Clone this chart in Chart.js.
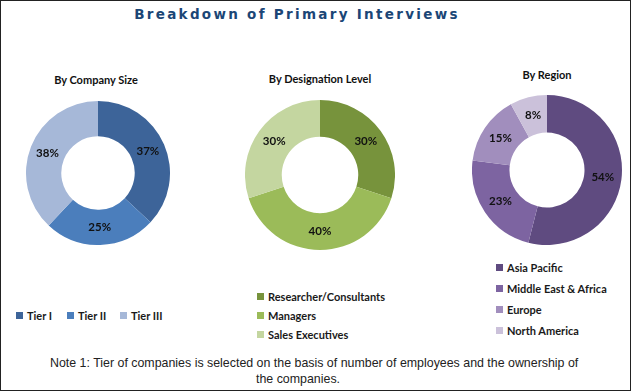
<!DOCTYPE html>
<html>
<head>
<meta charset="utf-8">
<script src="https://cdn.jsdelivr.net/npm/chart.js@4.4.1/dist/chart.umd.min.js"></script>
<style>
body { margin: 0; width: 631px; height: 391px; overflow: hidden; background: #fff; font-family: Lato, "Open Sans", sans-serif; }
#frame { position: absolute; left: 0; top: 0; width: 629px; height: 389px; border: 1px solid #222; }
#title { position: absolute; left: 0; width: 594px; top: 6px; text-align: center; font: bold 13.5px "DejaVu Sans", Verdana, sans-serif; letter-spacing: 2.3px; color: #1b4676; }
.sub { position: absolute; width: 200px; text-align: center; font-weight: bold; font-size: 11px; color: #111; }
.box { position: absolute; }
.leg { position: absolute; font-weight: bold; font-size: 11px; color: #1a1a1a; white-space: nowrap; }
.leg i { display: inline-block; width: 7px; height: 7px; margin-right: 4px; vertical-align: 1px; }
.note { position: absolute; font: 12.4px "Liberation Sans Narrow", "Liberation Sans", Arial, sans-serif; color: #222; white-space: nowrap; }
</style>
</head>
<body>
<div id="frame"></div>
<div id="title">Breakdown of Primary Interviews</div>

<div class="sub" style="left:-4px;top:73px">By Company Size</div>
<div class="sub" style="left:220px;top:72px">By Designation Level</div>
<div class="sub" style="left:447px;top:68px">By Region</div>

<div class="box" style="left:26px;top:101px;width:144px;height:144px"><canvas id="sizeChart"></canvas></div>
<div class="box" style="left:245px;top:100px;width:150px;height:150px"><canvas id="levelChart"></canvas></div>
<div class="box" style="left:472px;top:95px;width:150px;height:150px"><canvas id="regionChart"></canvas></div>

<div id="legends"></div>

<div class="note" style="left:50px;top:356px">Note 1: Tier of companies is selected on the basis of number of employees and the ownership of</div>
<div class="note" style="left:256px;top:372px">the companies.</div>

<script>
const sizeLabels = ['Tier I', 'Tier II', 'Tier III'];
const sizeValues = [37, 25, 38];
const sizeColors = ['#3d6499', '#4b7ebc', '#a6b8d8'];

const levelLabels = ['Researcher/Consultants', 'Managers', 'Sales Executives'];
const levelValues = [30, 40, 30];
const levelColors = ['#77933c', '#9bbb59', '#c4d6a0'];

const regionLabels = ['Asia Pacific', 'Middle East & Africa', 'Europe', 'North America'];
const regionValues = [54, 23, 15, 8];
const regionColors = ['#5f4b80', '#7d64a1', '#a18ebd', '#cbc1da'];

// percent text in the middle of each slice
const sliceLabels = {
    id: 'sliceLabels',
    afterDatasetsDraw(chart) {
        const ctx = chart.ctx;
        const ds = chart.data.datasets[0];
        ctx.save();
        ctx.font = 'bold 11.5px Lato, sans-serif';
        ctx.fillStyle = '#111';
        ctx.textAlign = 'center';
        ctx.textBaseline = 'middle';
        chart.getDatasetMeta(0).data.forEach((arc, i) => {
            const p = arc.tooltipPosition();
            ctx.fillText(ds.data[i] + '%', p.x, p.y);
        });
        ctx.restore();
    }
};

function donut(id, labels, values, colors, cutout) {
    return new Chart(document.getElementById(id), {
        type: 'doughnut',
        data: {
            labels: labels,
            datasets: [{ data: values, backgroundColor: colors, borderWidth: 0 }]
        },
        options: {
            responsive: true,
            maintainAspectRatio: false,
            animation: false,
            cutout: cutout,
            layout: { padding: 0 },
            plugins: { legend: { display: false }, tooltip: { enabled: false } }
        },
        plugins: [sliceLabels]
    });
}

donut('sizeChart', sizeLabels, sizeValues, sizeColors, '51%');
donut('levelChart', levelLabels, levelValues, levelColors, '51%');
donut('regionChart', regionLabels, regionValues, regionColors, '50%');

// legends
const legends = document.getElementById('legends');
function addLegend(label, color, x, y) {
    const d = document.createElement('div');
    d.className = 'leg';
    d.style.left = x + 'px';
    d.style.top = y + 'px';
    d.innerHTML = '<i style="background:' + color + '"></i>' + label.replace(/&/g, '&amp;');
    legends.appendChild(d);
}
const sizeX = [16, 67, 120];
sizeLabels.forEach((l, i) => addLegend(l, sizeColors[i], sizeX[i], 309));
levelLabels.forEach((l, i) => addLegend(l, levelColors[i], 257, 290 + i * 19));
regionLabels.forEach((l, i) => addLegend(l, regionColors[i], 496, 261 + i * 21));
</script>
</body>
</html>
